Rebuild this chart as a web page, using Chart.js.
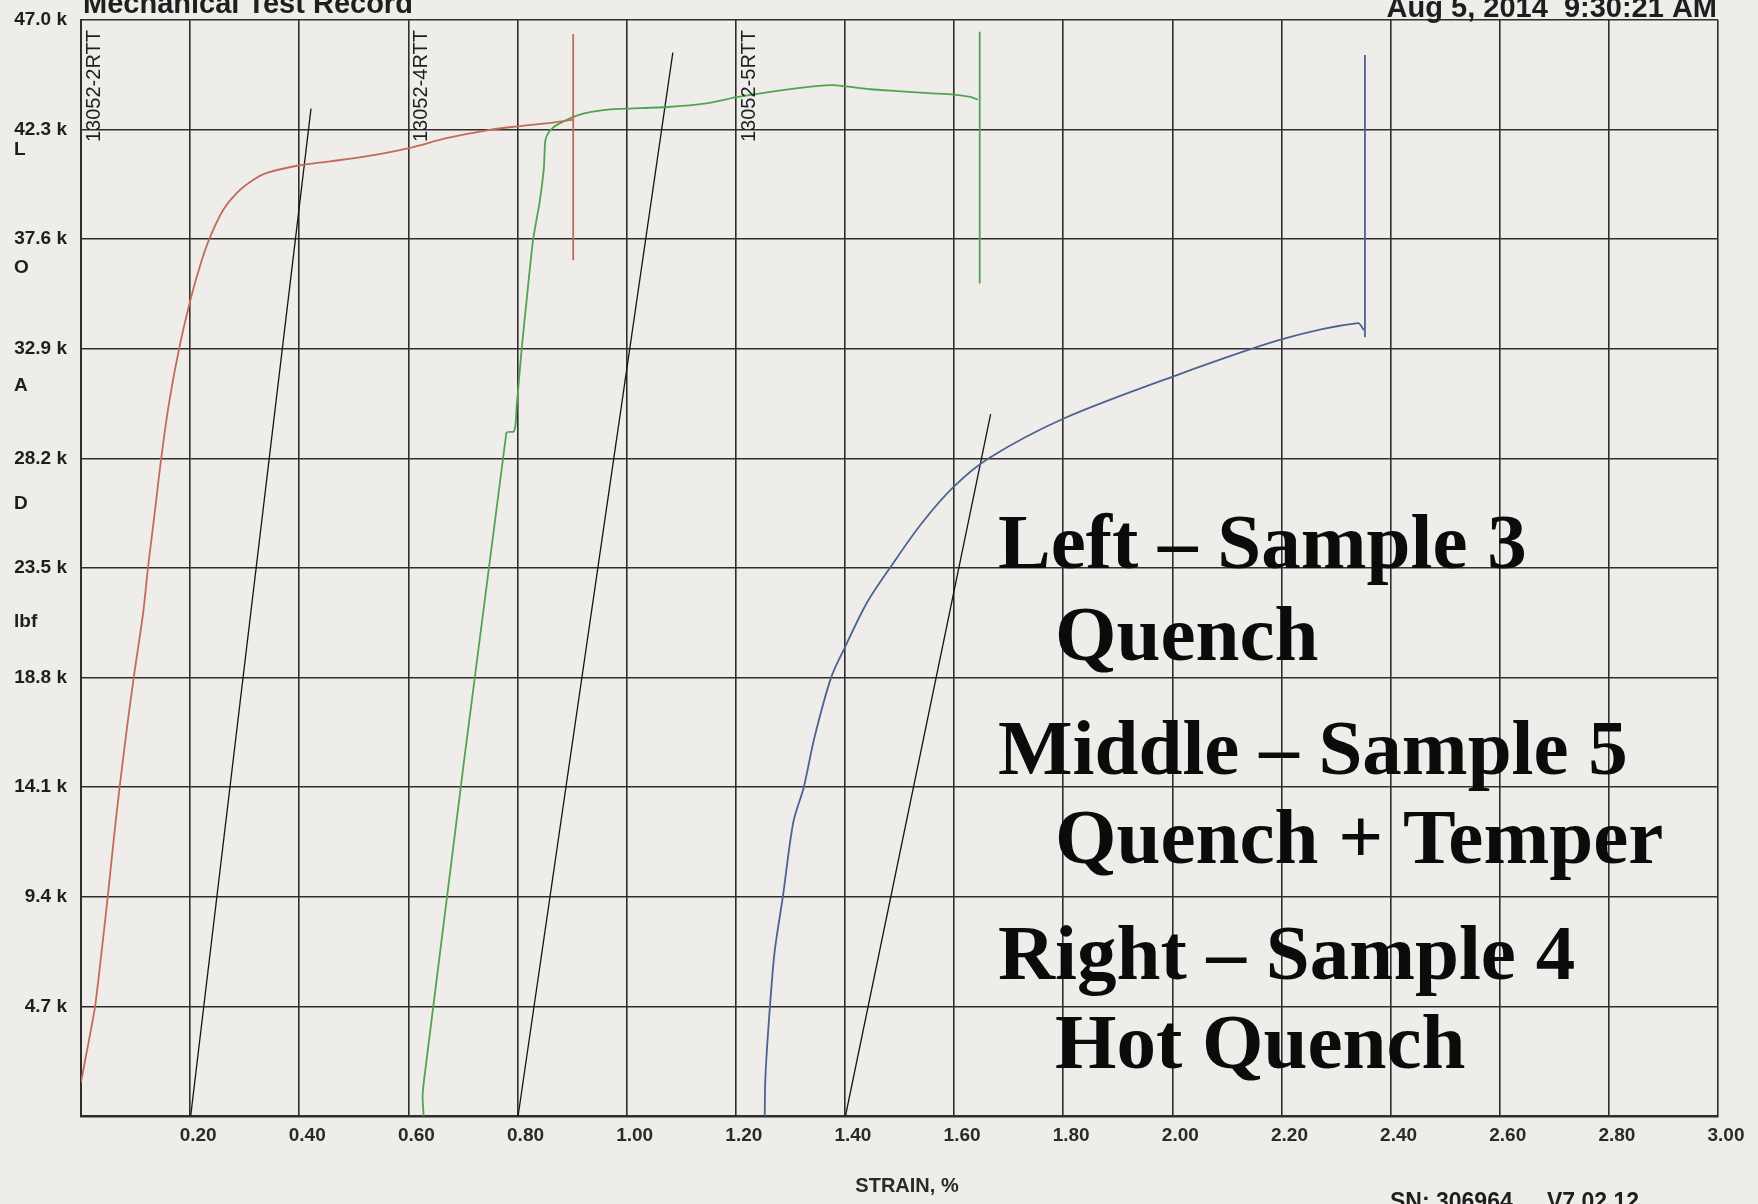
<!DOCTYPE html>
<html>
<head>
<meta charset="utf-8">
<title>Mechanical Test Record</title>
<script src="https://cdn.jsdelivr.net/npm/chart.js@4.4.1/dist/chart.umd.min.js"></script>
<style>
  html, body { margin: 0; padding: 0; background: #efedea; }
  #chart { display: block; }
</style>
</head>
<body>
<canvas id="chart" width="1758" height="1204"></canvas>
<script>
// strain in %, load in k lbf
const strainTicks = [0, 0.2, 0.4, 0.6, 0.8, 1.0, 1.2, 1.4, 1.6, 1.8, 2.0, 2.2, 2.4, 2.6, 2.8, 3.0];
const loadTicks = [0, 4.7, 9.4, 14.1, 18.8, 23.5, 28.2, 32.9, 37.6, 42.3, 47.0];
const loadLetters = ['L', 'O', 'A', 'D', 'lbf'];
const sampleIds = ['13052-2RTT', '13052-4RTT', '13052-5RTT'];
const sampleIdStrain = [0, 0.6, 1.2];

// left curve - sample 3, quench
const s3Strain = [0, 0.0074, 0.0166, 0.0258, 0.038, 0.049, 0.0597, 0.0708, 0.0843, 0.0966, 0.114, 0.1227, 0.135, 0.147,
  0.1613, 0.1798, 0.2006, 0.2178, 0.235, 0.2607, 0.2853, 0.316, 0.3405, 0.3957, 0.457, 0.5245, 0.6012, 0.6718,
  0.7515, 0.8006, 0.868, 0.9037];
const s3Load = [1.44, 2.37, 3.5, 4.7, 7.1, 9.4, 11.8, 14.1, 16.66, 18.8, 21.6, 23.5, 25.85, 28.2,
  30.57, 32.9, 35.0, 36.43, 37.6, 38.86, 39.58, 40.15, 40.44, 40.75, 40.94, 41.16, 41.51, 41.94,
  42.3, 42.44, 42.61, 42.73];
const s3BreakStrain = [0.902, 0.902];
const s3BreakLoad = [46.4, 36.7];

// middle curve - sample 5, quench + temper
const s5Strain = [0.628, 0.626, 0.629, 0.7795, 0.7929, 0.7964, 0.7985, 0.8076, 0.8181, 0.8286, 0.8405, 0.8482,
  0.8496, 0.851, 0.8567, 0.8665, 0.8826, 0.9072, 0.9352, 0.9703, 1.0754, 1.1456, 1.1989, 1.2858, 1.3419,
  1.377, 1.3994, 1.4471, 1.4962, 1.5523, 1.6, 1.6294, 1.6435];
const s5Load = [0, 0.8, 1.6, 29.3, 29.35, 29.66, 30.45, 32.9, 35.32, 37.6, 39.19, 40.62,
  41.34, 41.84, 42.17, 42.41, 42.63, 42.89, 43.06, 43.17, 43.27, 43.42, 43.68, 43.99, 44.15,
  44.21, 44.16, 44.03, 43.95, 43.86, 43.8, 43.7, 43.59];
const s5BreakStrain = [1.647, 1.647];
const s5BreakLoad = [46.5, 35.7];

// right curve - sample 4, hot quench
const s4Strain = [1.253, 1.254, 1.2592, 1.2708, 1.2862, 1.3054, 1.3246, 1.3438, 1.3746, 1.4, 1.44, 1.4823,
  1.54, 1.6, 1.663, 1.8, 2.0, 2.2, 2.34, 2.351];
const s4Load = [0, 1.5, 3.6, 6.97, 9.4, 12.6, 14.1, 16.2, 18.8, 20.1, 22.0, 23.5,
  25.4, 27.0, 28.2, 29.9, 31.7, 33.3, 34.0, 33.7];
const s4BreakStrain = [2.353, 2.353];
const s4BreakLoad = [33.4, 45.5];

// 0.2 % offset lines
const offset3Strain = [0.201, 0.4215];
const offset3Load = [0, 43.2];
const offset5Strain = [0.801, 1.0846];
const offset5Load = [0, 45.6];
const offset4Strain = [1.401, 1.667];
const offset4Load = [0, 30.1];

const noteLines = [
  ['Left \u2013 Sample 3', false],
  ['Quench', true],
  ['Middle \u2013 Sample 5', false],
  ['Quench + Temper', true],
  ['Right \u2013 Sample 4', false],
  ['Hot Quench', true]
];

const sans = '"Liberation Sans", Arial, sans-serif';
const ink = '#1e1e1e';
const gridInk = '#2e2e2e';

function pts (xs, ys) {
  return xs.map((v, i) => ({ x: v, y: ys[i] }));
}

function series (xs, ys, color, width, tension) {
  return {
    data: pts(xs, ys),
    borderColor: color,
    borderWidth: width,
    showLine: true,
    pointRadius: 0,
    tension: tension || 0
  };
}

const red = '#c06d58';
const green = '#4fa450';
const blue = '#4c6390';
const black = '#151515';

const paperText = {
  id: 'paperText',
  afterDraw (chart) {
    const ctx = chart.ctx;
    const xs = chart.scales.x;
    ctx.save();
    ctx.fillStyle = ink;
    ctx.textAlign = 'left';
    ctx.textBaseline = 'alphabetic';
    ctx.font = 'bold 29px ' + sans;
    ctx.fillText('Mechanical Test Record', 83, 13);
    ctx.textAlign = 'right';
    ctx.fillText('Aug 5, 2014  9:30:21 AM', 1717, 17);

    ctx.textAlign = 'left';
    ctx.font = 'bold 23px ' + sans;
    ctx.fillText('SN: 306964', 1390, 1209);
    ctx.fillText('V7.02.12', 1547, 1209);

    // axis name under the strain ticks
    ctx.fillStyle = '#2a2a2a';
    ctx.textAlign = 'center';
    ctx.textBaseline = 'middle';
    ctx.font = 'bold 20px ' + sans;
    ctx.fillText('STRAIN, %', 907, 1186);

    // LOAD lbf stacked down the left side
    ctx.fillStyle = ink;
    ctx.textAlign = 'left';
    ctx.font = 'bold 19px ' + sans;
    loadLetters.forEach((t, i) => ctx.fillText(t, 14, 150 + i * 118));

    // specimen ids, rotated
    ctx.textBaseline = 'alphabetic';
    ctx.font = '20px ' + sans;
    sampleIds.forEach((id, i) => {
      ctx.save();
      ctx.translate(xs.getPixelForValue(sampleIdStrain[i]) + 19, 142);
      ctx.rotate(-Math.PI / 2);
      ctx.fillText(id, 0, 0);
      ctx.restore();
    });

    // hand-added note
    ctx.fillStyle = '#0b0b0b';
    ctx.font = 'bold 79px "Liberation Serif", "Times New Roman", serif';
    const baselines = [568, 660, 774, 863, 979, 1068];
    noteLines.forEach((line, i) => {
      ctx.fillText(line[0], line[1] ? 1055 : 998, baselines[i]);
    });
    ctx.restore();
  }
};

Chart.defaults.font.family = sans;
Chart.defaults.color = ink;

new Chart(document.getElementById('chart'), {
  type: 'scatter',
  data: {
    datasets: [
      series(s3Strain, s3Load, red, 1.8, 0.3),
      series(s3BreakStrain, s3BreakLoad, red, 1.8),
      series(s5Strain, s5Load, green, 1.8, 0.2),
      series(s5BreakStrain, s5BreakLoad, green, 1.8),
      series(s4Strain, s4Load, blue, 1.8, 0.3),
      series(s4BreakStrain, s4BreakLoad, blue, 1.8),
      series(offset3Strain, offset3Load, black, 1.3),
      series(offset5Strain, offset5Load, black, 1.3),
      series(offset4Strain, offset4Load, black, 1.3)
    ]
  },
  options: {
    responsive: false,
    animation: false,
    layout: { padding: { left: 0, top: 20, right: 40, bottom: 0 } },
    plugins: {
      legend: { display: false },
      tooltip: { enabled: false }
    },
    scales: {
      x: {
        type: 'linear',
        min: 0,
        max: 3,
        afterBuildTicks: axis => { axis.ticks = strainTicks.map(v => ({ value: v })); },
        afterFit: axis => { axis.height = 88; },
        grid: { color: gridInk, lineWidth: 1.6, drawTicks: false },
        border: { display: true, color: gridInk, width: 2.5 },
        ticks: {
          padding: 8,
          labelOffset: 8,
          maxRotation: 0,
          autoSkip: false,
          color: '#2a2a2a',
          font: { size: 19, weight: 'bold' },
          callback: v => (v === 0 ? '' : v.toFixed(2))
        }
      },
      y: {
        type: 'linear',
        min: 0,
        max: 47,
        afterBuildTicks: axis => { axis.ticks = loadTicks.map(v => ({ value: v })); },
        afterFit: axis => {
          axis.width = 81;
          axis.paddingTop = 0;
          axis.paddingBottom = 0;
        },
        grid: { color: gridInk, lineWidth: 1.6, drawTicks: false },
        border: { display: true, color: gridInk, width: 2 },
        ticks: {
          padding: 14,
          autoSkip: false,
          color: ink,
          font: { size: 19, weight: 'bold' },
          callback: v => (v === 0 ? '' : v.toFixed(1) + ' k')
        }
      }
    }
  },
  plugins: [paperText]
});
</script>
</body>
</html>
